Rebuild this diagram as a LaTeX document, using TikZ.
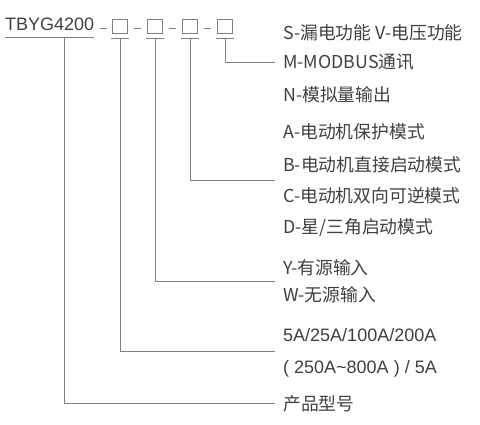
\documentclass[tikz,border=0pt]{standalone}
\usepackage{fontspec}
\usepackage{tikz}
\usepackage{xcolor}
\usetikzlibrary{calc,positioning}
\setmainfont{Liberation Sans}
\newfontfamily\cjk{Noto Sans CJK SC}
\definecolor{Ink}{HTML}{404040}
\definecolor{Rule}{HTML}{808080}

\begin{document}
\begin{tikzpicture}[x=1pt,y=-1pt,
  code/.style={font=\fontsize{18}{20}\selectfont,text=Ink,inner sep=0pt,anchor=base west},
  item/.style={font=\cjk\fontsize{17.8}{20}\selectfont,text=Ink,inner sep=0pt,anchor=base west},
  slot/.style={draw=Rule,line width=1pt,minimum width=14.5pt,minimum height=14.5pt,inner sep=0pt},
  conn/.style={draw=Rule,line width=1pt}
]
\useasboundingbox (0,0) rectangle (480,425);
% model code and the four option slots
\node[code] (model) at (5,31) {TBYG4200};
\node[slot] (s1) at (120,26.7) {};
\node[slot] (s2) at (155,26.7) {};
\node[slot] (s3) at (190,26.7) {};
\node[slot] (s4) at (225,26.7) {};
\draw[conn] ([shift={(0,6)}]model.south west) -- ([shift={(0,6)}]model.south east);
\foreach \s in {s1,s2,s3,s4}
  \draw[conn] ([shift={(-1.5,3.75)}]\s.south west) -- ([shift={(1.5,3.75)}]\s.south east);
\foreach \a/\b in {model/s1,s1/s2,s2/s3,s3/s4}{
  \coordinate (m) at ($(\a.east|-\b.center)!.5!(\b.west)$);
  \draw[conn] ([shift={(-3.25,1.6)}]m) -- ++(6.5,0);
}
\coordinate (tap) at (64,37);

% option texts
\node[item] (fS) at (283,39.5) {S-漏电功能 V-电压功能};
\node[item] (fM) at (283,69) {M-MODBUS通讯};
\node[item] (fN) at (283,101.5) {N-模拟量输出};
\node[item] (mA) at (283,138.5) {A-电动机保护模式};
\node[item] (mB) at (283,171.5) {B-电动机直接启动模式};
\node[item] (mC) at (283,202.5) {C-电动机双向可逆模式};
\node[item] (mD) at (283,233.5) {D-星/三角启动模式};
\node[item] (iY) at (283,274.5) {Y-有源输入};
\node[item] (iW) at (283,301.5) {W-无源输入};
\node[code] (cA) at (283,341.5) {5A/25A/100A/200A};
\node[code] (cB) at (283,373.5) {( 250A\textasciitilde 800A ) / 5A};
\node[item] (pn) at (283,410.5) {产品型号};

% leaders
\draw[conn,shorten >=8pt] ([shift={(0,3.75)}]s4.south) |- (fM.west);
\draw[conn,shorten >=8pt] ([shift={(0,3.75)}]s3.south) |- ($(mB.west)!.5!(mC.west)$);
\draw[conn,shorten >=8pt] ([shift={(0,3.75)}]s2.south) |- ($(iY.west)!.5!(iW.west)$);
\draw[conn,shorten >=8pt] ([shift={(0,3.75)}]s1.south) |- ($(cA.west)!.5!(cB.west)$);
\draw[conn,shorten >=8pt] (tap) |- (pn.west);
\end{tikzpicture}
\end{document}
